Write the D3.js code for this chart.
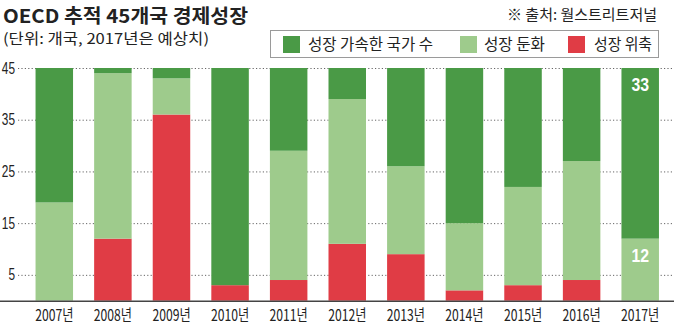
<!DOCTYPE html>
<html>
<head>
<meta charset="utf-8">
<script src="https://cdn.jsdelivr.net/npm/d3@7"></script>
<style>
  html, body { margin: 0; padding: 0; background: #fff; }
  svg { display: block; }
  text { font-family: "Noto Sans CJK KR", "Noto Sans", sans-serif; }
</style>
</head>
<body>
<div id="chart"></div>
<script>
// OECD 45개국 성장 추이 (단위: 개국)
const years = ['2007년', '2008년', '2009년', '2010년', '2011년', '2012년',
               '2013년', '2014년', '2015년', '2016년', '2017년'];
const accelerating = [26, 1, 2, 42, 16, 6, 19, 30, 23, 18, 33]; // 성장 가속한 국가 수
const slowing      = [19, 32, 7, 0, 25, 28, 17, 13, 19, 23, 12]; // 성장 둔화
const contracting  = [0, 12, 36, 3, 4, 11, 9, 2, 3, 4, 0];       // 성장 위축
const yTicks = [5, 15, 25, 35, 45];
const seriesKeys = ['contracting', 'slowing', 'accelerating'];
const seriesNames = {
  accelerating: '성장 가속한 국가 수',
  slowing: '성장 둔화',
  contracting: '성장 위축'
};
const labelledYear = '2017년';

const colors = {
  accelerating: '#4a9a46',
  slowing: '#9ecb8c',
  contracting: '#e03c45'
};

const W = 674, H = 325;
const svg = d3.select('#chart').append('svg').attr('width', W).attr('height', H);

const rows = years.map((y, i) => ({
  year: y,
  accelerating: accelerating[i],
  slowing: slowing[i],
  contracting: contracting[i]
}));
const stacked = d3.stack().keys(seriesKeys)(rows);

const x = d3.scaleBand().domain(years).range([25, 669.5]).paddingInner(0.36).paddingOuter(0.18);
const y = d3.scaleLinear().domain([0, 45]).range([300.7, 68]);

// condensed text helper
function ctext(sel, tx, ty, str, opts) {
  return sel.append('text')
    .attr('transform', `translate(${tx},${ty}) scale(${opts.sx || 1},1)`)
    .attr('text-anchor', opts.anchor || 'start')
    .attr('font-size', opts.size)
    .attr('font-weight', opts.weight || 400)
    .attr('fill', opts.fill || '#222')
    .style('font-family', opts.family || null)
    .text(str);
}

// dotted gridlines
const grid = svg.append('g');
grid.selectAll('line').data(yTicks).join('line')
  .attr('x1', 18).attr('x2', W)
  .attr('y1', d => y(d) + 0.5).attr('y2', d => y(d) + 0.5)
  .attr('stroke', '#666').attr('stroke-width', 1)
  .attr('stroke-dasharray', '1.2,2.2');

// tick labels
const tl = svg.append('g');
yTicks.forEach(t => ctext(tl, 15, y(t) + 5.5, String(t),
  { size: 16, anchor: 'end', sx: 0.74, fill: '#222', family: '"Liberation Sans", sans-serif' }));

// bars
svg.append('g').selectAll('g').data(stacked).join('g')
  .attr('fill', d => colors[d.key])
  .selectAll('rect').data(d => d).join('rect')
  .attr('x', d => x(d.data.year))
  .attr('width', x.bandwidth())
  .attr('y', d => y(d[1]))
  .attr('height', d => y(d[0]) - y(d[1]));

// value labels inside the 2017 bar
const vl = svg.append('g');
stacked.forEach(s => {
  const seg = s.find(d => d.data.year === labelledYear);
  const v = seg[1] - seg[0];
  if (v > 0) {
    ctext(vl, x(labelledYear) + x.bandwidth() / 2, y(seg[1]) + 23, String(v),
      { size: 18, weight: 700, anchor: 'middle', sx: 0.88, fill: '#fff', family: '"Liberation Sans", sans-serif' });
  }
});

// baseline
svg.append('line')
  .attr('x1', 0).attr('x2', W)
  .attr('y1', y(0) + 0.5).attr('y2', y(0) + 0.5)
  .attr('stroke', '#444').attr('stroke-width', 1.5);

// year labels
const xl = svg.append('g');
years.forEach(yr => ctext(xl, x(yr) + x.bandwidth() / 2, 321, yr,
  { size: 16, anchor: 'middle', sx: 0.76, fill: '#222' }));

// title, unit note, source
svg.append('text').attr('x', 3).attr('y', 23)
  .attr('font-size', 19).attr('font-weight', 700).attr('fill', '#222')
  .attr('textLength', 245).attr('lengthAdjust', 'spacingAndGlyphs')
  .text('OECD 추적 45개국 경제성장');
svg.append('text').attr('x', 3).attr('y', 44)
  .attr('font-size', 14.5).attr('fill', '#222')
  .attr('textLength', 206).attr('lengthAdjust', 'spacingAndGlyphs')
  .text('(단위: 개국, 2017년은 예상치)');
svg.append('text').attr('x', 507).attr('y', 20)
  .attr('font-size', 15).attr('fill', '#222')
  .attr('textLength', 150).attr('lengthAdjust', 'spacingAndGlyphs')
  .text('※ 출처: 월스트리트저널');

// legend
const lg = svg.append('g');
lg.append('rect').attr('x', 270.5).attr('y', 30.5).attr('width', 388).attr('height', 27)
  .attr('fill', '#fff').attr('stroke', '#9a9a9a').attr('stroke-width', 1);
const legendItems = [
  { key: 'accelerating', sx: 283, tx: 308, tw: 125 },
  { key: 'slowing', sx: 460, tx: 484, tw: 61 },
  { key: 'contracting', sx: 568, tx: 594, tw: 58 }
];
legendItems.forEach(it => {
  lg.append('rect').attr('x', it.sx).attr('y', 36).attr('width', 17).attr('height', 17)
    .attr('fill', colors[it.key]);
  lg.append('text').attr('x', it.tx).attr('y', 50)
    .attr('font-size', 16).attr('fill', '#222')
    .attr('textLength', it.tw).attr('lengthAdjust', 'spacingAndGlyphs')
    .text(seriesNames[it.key]);
});
</script>
</body>
</html>
